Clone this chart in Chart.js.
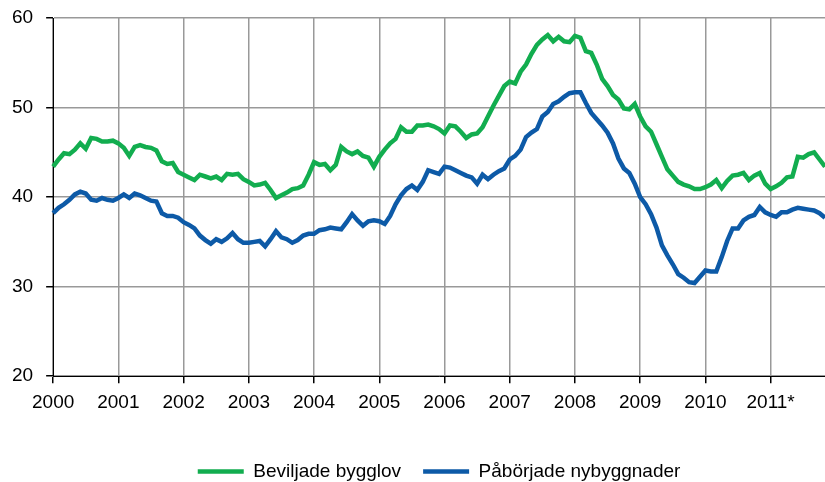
<!DOCTYPE html>
<html>
<head>
<meta charset="utf-8">
<script src="https://cdn.jsdelivr.net/npm/chart.js@4"></script>
<style>
  html, body { margin: 0; padding: 0; background: #fff; }
  #wrap { width: 825px; height: 482px; }
</style>
</head>
<body>
<div id="wrap"><canvas id="chart" width="825" height="482"></canvas></div>
<script>
// year tick labels (one per January)
const yearTicks = ['2000', '2001', '2002', '2003', '2004', '2005', '2006', '2007', '2008', '2009', '2010', '2011*'];
const monthNames = ['01', '02', '03', '04', '05', '06', '07', '08', '09', '10', '11', '12'];

// Beviljade bygglov, monthly Jan 2000 - Nov 2011
const beviljade = [
  43.4, 44.2, 44.9, 44.8, 45.3, 46.0, 45.4, 46.6, 46.5, 46.2, 46.2, 46.3,
  46.0, 45.5, 44.6, 45.6, 45.8, 45.6, 45.5, 45.2, 44.0, 43.7, 43.8, 42.8,
  42.5, 42.2, 41.9, 42.5, 42.3, 42.1, 42.3, 41.9, 42.6, 42.5, 42.6, 42.0,
  41.7, 41.3, 41.4, 41.6, 40.8, 39.9, 40.2, 40.5, 40.9, 41.0, 41.3, 42.5,
  43.9, 43.6, 43.7, 43.0, 43.6, 45.6, 45.1, 44.8, 45.1, 44.6, 44.4, 43.4,
  44.5, 45.3, 46.0, 46.5, 47.8, 47.3, 47.3, 48.0, 48.0, 48.1, 47.9, 47.6,
  47.1, 48.0, 47.9, 47.3, 46.6, 47.0, 47.1, 47.8, 49.0, 50.2, 51.3, 52.4,
  52.9, 52.7, 54.0, 54.8, 56.0, 57.0, 57.6, 58.1, 57.4, 57.9, 57.4, 57.3,
  58.0, 57.8, 56.3, 56.1, 54.8, 53.2, 52.4, 51.4, 50.9, 49.9, 49.8, 50.4,
  49.0, 47.9, 47.3, 45.9, 44.5, 43.1, 42.4, 41.7, 41.4, 41.2, 40.9, 40.9,
  41.1, 41.4, 41.9, 41.0, 41.8, 42.4, 42.5, 42.7, 41.9, 42.4, 42.7, 41.5,
  40.9, 41.2, 41.6, 42.2, 42.3, 44.5, 44.4, 44.8, 45.0, 44.2, 43.4
];

// Påbörjade nybyggnader, monthly Jan 2000 - Nov 2011
const paborjade = [
  38.2, 38.8, 39.2, 39.7, 40.3, 40.6, 40.4, 39.7, 39.6, 39.9, 39.7, 39.6,
  39.9, 40.3, 39.9, 40.4, 40.2, 39.9, 39.6, 39.5, 38.2, 37.9, 37.9, 37.7,
  37.2, 36.9, 36.5, 35.7, 35.2, 34.8, 35.3, 35.0, 35.4, 36.0, 35.3, 34.9,
  34.9, 35.0, 35.1, 34.5, 35.3, 36.2, 35.5, 35.3, 34.9, 35.2, 35.7, 35.9,
  35.9, 36.3, 36.4, 36.6, 36.5, 36.4, 37.2, 38.1, 37.4, 36.8, 37.3, 37.4,
  37.3, 37.0, 37.9, 39.2, 40.2, 40.9, 41.3, 40.8, 41.7, 43.0, 42.8, 42.6,
  43.4, 43.3, 43.0, 42.7, 42.4, 42.2, 41.5, 42.5, 42.0, 42.5, 42.9, 43.2,
  44.2, 44.6, 45.3, 46.7, 47.2, 47.6, 49.0, 49.5, 50.4, 50.7, 51.2, 51.6,
  51.7, 51.7, 50.5, 49.4, 48.7, 48.0, 47.2, 46.0, 44.3, 43.2, 42.7, 41.5,
  40.0, 39.2, 38.1, 36.6, 34.6, 33.5, 32.5, 31.4, 31.0, 30.5, 30.4, 31.1,
  31.8, 31.7, 31.7, 33.3, 35.1, 36.5, 36.5, 37.4, 37.8, 38.0, 38.9, 38.3,
  38.0, 37.8, 38.3, 38.3, 38.6, 38.8, 38.7, 38.6, 38.5, 38.2, 37.7
];

const labels = beviljade.map((v, i) => yearTicks[Math.floor(i / 12)].replace('*', '') + '-' + monthNames[i % 12]);

const FONT = "'Liberation Sans', Arial, sans-serif";
const GRID = '#999999';

new Chart(document.getElementById('chart'), {
  type: 'line',
  data: {
    labels: labels,
    datasets: [
      {
        label: 'Beviljade bygglov',
        data: beviljade,
        borderColor: '#12ad4f',
        backgroundColor: '#12ad4f',
        borderWidth: 4.5,
        pointRadius: 0,
        tension: 0
      },
      {
        label: 'Påbörjade nybyggnader',
        data: paborjade,
        borderColor: '#0d5aa7',
        backgroundColor: '#0d5aa7',
        borderWidth: 4.5,
        pointRadius: 0,
        tension: 0
      }
    ]
  },
  options: {
    responsive: false,
    devicePixelRatio: 1,
    animation: false,
    layout: { padding: { left: -1, right: 0, top: 0, bottom: -9 } },
    plugins: {
      legend: {
        position: 'bottom',
        fullSize: false,
        labels: {
          usePointStyle: true,
          pointStyle: 'line',
          pointStyleWidth: 46,
          padding: 22,
          color: '#000',
          font: { family: FONT, size: 19 }
        }
      },
      tooltip: { enabled: false }
    },
    scales: {
      x: {
        type: 'category',
        offset: false,
        border: { color: '#000', width: 1 },
        grid: {
          color: (c) => (c.index % 12 === 0 ? GRID : 'rgba(0,0,0,0)'),
          tickColor: (c) => (c.index % 12 === 0 ? '#000' : 'rgba(0,0,0,0)'),
          tickLength: 7,
          lineWidth: 1.5
        },
        ticks: {
          autoSkip: false,
          maxRotation: 0,
          minRotation: 0,
          padding: 8,
          color: '#000',
          font: { family: FONT, size: 19 },
          callback: (v, i) => (i % 12 === 0 ? yearTicks[i / 12] : '')
        },
        afterFit: (scale) => {
          scale.height += 18;
          scale.paddingRight = 0;
        }
      },
      y: {
        min: 20,
        max: 60,
        border: { color: '#000', width: 1 },
        grid: {
          color: GRID,
          tickColor: '#000',
          tickLength: 7,
          lineWidth: 1.5
        },
        ticks: {
          stepSize: 10,
          padding: 13,
          color: '#000',
          font: { family: FONT, size: 19 }
        },
        afterFit: (scale) => { scale.paddingTop = 18; }
      }
    }
  }
});
</script>
</body>
</html>
